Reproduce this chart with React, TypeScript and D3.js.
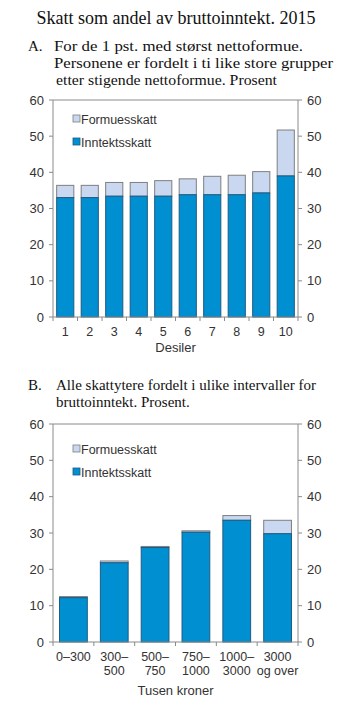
import * as d3 from "d3";

const deciles = ["1", "2", "3", "4", "5", "6", "7", "8", "9", "10"];
const incomeTaxA = [33.0, 33.0, 33.4, 33.4, 33.4, 33.8, 33.8, 33.8, 34.3, 39.0];
const wealthTaxA = [3.4, 3.4, 3.8, 3.8, 4.3, 4.4, 5.1, 5.4, 5.9, 12.7];

const incomeGroups = [["0–300"], ["300–", "500"], ["500–", "750"], ["750–", "1000"], ["1000–", "3000"], ["3000", "og over"]];
const incomeTaxB = [12.2, 21.8, 26.0, 30.2, 33.5, 29.8];
const wealthTaxB = [0.3, 0.5, 0.3, 0.4, 1.3, 3.7];

const yTicks = [0, 10, 20, 30, 40, 50, 60];

const W = 353;
const H = 711;
const left = 53;
const right = 298;
const INNT = "#0090d2";
const FORM = "#c9d8f0";
const AXIS = "#8a8a8a";
const SANS = "'Liberation Sans', Arial, sans-serif";
const SERIF = "'Liberation Serif', 'Times New Roman', serif";

interface PanelProps {
  top: number;      // pixel y of value 60
  bottom: number;   // pixel y of value 0
  cats: string[][];
  income: number[];
  wealth: number[];
  padding: number;
  xTitle: string;
  xTitleY: number;
  legendY: number;
}

function Panel({ top, bottom, cats, income, wealth, padding, xTitle, xTitleY, legendY }: PanelProps) {
  const keys = cats.map((c) => c.join(" "));
  const x = d3.scaleBand<string>().domain(keys).range([left, right]).paddingInner(padding).paddingOuter(padding / 2);
  const y = d3.scaleLinear().domain([0, 60]).range([bottom, top]);
  const bw = x.bandwidth();
  const step = x.step();

  return (
    <g>
      {/* frame */}
      <line x1={left} x2={right} y1={top} y2={top} stroke={AXIS} />
      <line x1={left} x2={left} y1={top} y2={bottom} stroke={AXIS} />
      <line x1={right} x2={right} y1={top} y2={bottom} stroke={AXIS} />
      {yTicks.map((t) => (
        <g key={t}>
          <line x1={left - 4} x2={left} y1={y(t)} y2={y(t)} stroke={AXIS} />
          <line x1={right} x2={right + 4} y1={y(t)} y2={y(t)} stroke={AXIS} />
          <text x={left - 9} y={y(t) + 4.5} textAnchor="end" fontSize={13} fill="#333">{t}</text>
          <text x={right + 9} y={y(t) + 4.5} fontSize={13} fill="#333">{t}</text>
        </g>
      ))}
      {/* bars */}
      {keys.map((k, i) => {
        const bx = x(k)!;
        return (
          <g key={k}>
            <rect x={bx} width={bw} y={y(income[i] + wealth[i])} height={y(income[i]) - y(income[i] + wealth[i])}
              fill={FORM} stroke="#7f7f7f" strokeWidth={1} />
            <rect x={bx} width={bw} y={y(income[i])} height={y(0) - y(income[i])}
              fill={INNT} stroke="#1d5a82" strokeWidth={1} />
          </g>
        );
      })}
      {/* bottom axis */}
      <line x1={left} x2={right} y1={bottom} y2={bottom} stroke={AXIS} />
      {d3.range(keys.length + 1).map((i) => (
        <line key={i} x1={left + i * step} x2={left + i * step} y1={bottom} y2={bottom + 4} stroke={AXIS} />
      ))}
      {cats.map((c, i) =>
        c.map((line, j) => (
          <text key={`${i}-${j}`} x={x(keys[i])! + bw / 2} y={bottom + 19 + j * 13.5}
            textAnchor="middle" fontSize={12.5} fill="#333">{line}</text>
        ))
      )}
      <text x={(left + right) / 2} y={xTitleY} textAnchor="middle" fontSize={13} fill="#333">{xTitle}</text>
      {/* legend */}
      <rect x={73} y={legendY - 9} width={7} height={7} fill={FORM} stroke="#7f7f7f" strokeWidth={0.8} />
      <text x={81} y={legendY} fontSize={12.5} fill="#333">Formuesskatt</text>
      <rect x={73} y={legendY + 14} width={7} height={7} fill={INNT} stroke="#1d5a82" strokeWidth={0.8} />
      <text x={81} y={legendY + 23} fontSize={12.5} fill="#333">Inntektsskatt</text>
    </g>
  );
}

export default function App() {
  return (
    <svg width={W} height={H} viewBox={`0 0 ${W} ${H}`}
      style={{ position: "absolute", left: 0, top: 0, background: "#fff", fontFamily: SANS }}>
      <text x={176} y={24} textAnchor="middle" fontFamily={SERIF} fontSize={18} fill="#111">
        Skatt som andel av bruttoinntekt. 2015
      </text>
      <g fontFamily={SERIF} fill="#111" fontSize={15}>
        <text x={28} y={51}>A.</text>
        <text x={54} y={51} textLength={249} lengthAdjust="spacingAndGlyphs">For de 1 pst. med størst nettoformue.</text>
        <text x={54} y={68} textLength={279} lengthAdjust="spacingAndGlyphs">Personene er fordelt i ti like store grupper</text>
        <text x={56} y={85} textLength={221} lengthAdjust="spacingAndGlyphs">etter stigende nettoformue. Prosent</text>
        <text x={28} y={390}>B.</text>
        <text x={56} y={390}>Alle skattytere fordelt i ulike intervaller for</text>
        <text x={56} y={407}>bruttoinntekt. Prosent.</text>
      </g>
      <Panel top={100} bottom={317} cats={deciles.map((d) => [d])} income={incomeTaxA} wealth={wealthTaxA}
        padding={0.3} xTitle="Desiler" xTitleY={352} legendY={124} />
      <Panel top={424} bottom={642} cats={incomeGroups} income={incomeTaxB} wealth={wealthTaxB}
        padding={0.32} xTitle="Tusen kroner" xTitleY={695} legendY={454} />
    </svg>
  );
}
